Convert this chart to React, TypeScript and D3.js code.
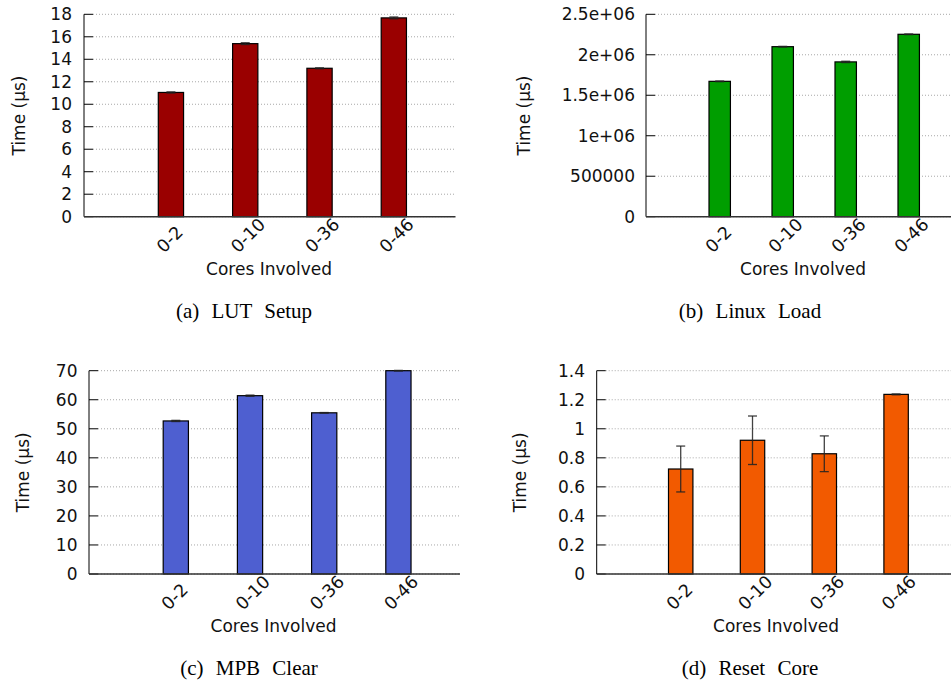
import React from "react";
import * as d3 from "d3";

const categories = ["0-2", "0-10", "0-36", "0-46"];

const lutSetup = [11.05, 15.39, 13.2, 17.68];
const lutSetupErr = [0.05, 0.08, 0.04, 0.08];
const lutTicks = [0, 2, 4, 6, 8, 10, 12, 14, 16, 18];

const linuxLoad = [1672000, 2100000, 1912000, 2253000];
const linuxLoadErr = [4000, 4000, 8000, 4000];
const linuxTicks = [0, 500000, 1000000, 1500000, 2000000, 2500000];
const linuxTickLabels = ["0", "500000", "1e+06", "1.5e+06", "2e+06", "2.5e+06"];

const mpbClear = [52.7, 61.4, 55.5, 70.0];
const mpbClearErr = [0.2, 0.2, 0.1, 0.1];
const mpbTicks = [0, 10, 20, 30, 40, 50, 60, 70];

const resetCore = [0.723, 0.921, 0.828, 1.237];
const resetCoreErr = [0.158, 0.167, 0.123, 0.003];
const resetTicks = [0, 0.2, 0.4, 0.6, 0.8, 1.0, 1.2, 1.4];

const captions = ["(a) LUT Setup", "(b) Linux Load", "(c) MPB Clear", "(d) Reset Core"];

type PanelProps = {
  left: number;
  top: number;
  bottom: number;
  unit: number;
  values: number[];
  errs: number[];
  ticks: number[];
  tickLabels?: string[];
  color: string;
  ylabelX: number;
  tickLabelX: number;
  xlabelX: number;
  xlabelY: number;
  caption: string;
  captionX: number;
  captionY: number;
};

const FONT = "'DejaVu Sans', sans-serif";

function Panel(p: PanelProps) {
  const x = d3.scaleLinear().domain([-1.17, 3.83]).range([p.left, p.left + 5 * p.unit]);
  const yMax = p.ticks[p.ticks.length - 1];
  const y = d3.scaleLinear().domain([0, yMax]).range([p.bottom, p.top]);
  const barW = 0.34 * p.unit;
  const right = x(3.83);
  const fmt = (v: number, i: number) => (p.tickLabels ? p.tickLabels[i] : d3.format("~g")(v));
  return (
    <g>
      {p.ticks.map((t, i) => (
        <g key={"t" + i}>
          <line
            x1={p.left + 9}
            x2={right}
            y1={y(t)}
            y2={y(t)}
            stroke="#a8a8a8"
            strokeWidth={1}
            strokeDasharray="1,2"
          />
          <line x1={p.left} x2={p.left + 9} y1={y(t)} y2={y(t)} stroke="#000" strokeWidth={1} />
          <text
            x={p.tickLabelX}
            y={y(t)}
            textAnchor="end"
            dominantBaseline="central"
            fontFamily={FONT}
            fontSize={17}
            fill="#111"
          >
            {fmt(t, i)}
          </text>
        </g>
      ))}
      {p.values.map((v, i) => {
        const cx = x(i);
        return (
          <g key={"b" + i}>
            <rect
              x={cx - barW / 2}
              y={y(v)}
              width={barW}
              height={p.bottom - y(v)}
              fill={p.color}
              stroke="#000"
              strokeWidth={1.2}
            />
            <line x1={cx} x2={cx} y1={y(v + p.errs[i])} y2={y(v - p.errs[i])} stroke="#222" strokeWidth={1.3} opacity={0.85} />
            <line x1={cx - 4.5} x2={cx + 4.5} y1={y(v + p.errs[i])} y2={y(v + p.errs[i])} stroke="#222" strokeWidth={1.3} opacity={0.85} />
            <line x1={cx - 4.5} x2={cx + 4.5} y1={y(v - p.errs[i])} y2={y(v - p.errs[i])} stroke="#222" strokeWidth={1.3} opacity={0.85} />
          </g>
        );
      })}
      <line x1={p.left} x2={p.left} y1={p.top} y2={p.bottom} stroke="#000" strokeWidth={1} />
      <line x1={p.left} x2={right} y1={p.bottom} y2={p.bottom} stroke="#333" strokeWidth={1.5} />
      {categories.map((c, i) => {
        const ax = x(i) - 7;
        const ay = p.bottom + 37;
        return (
          <text
            key={"c" + i}
            x={ax}
            y={ay}
            transform={`rotate(-45, ${ax}, ${ay})`}
            textAnchor="start"
            fontFamily={FONT}
            fontSize={17.5}
            fill="#111"
          >
            {c}
          </text>
        );
      })}
      <text
        x={p.ylabelX}
        y={(p.top + p.bottom) / 2}
        transform={`rotate(-90, ${p.ylabelX}, ${(p.top + p.bottom) / 2})`}
        textAnchor="middle"
        dominantBaseline="central"
        fontFamily={FONT}
        fontSize={17}
        fill="#111"
      >
        Time (µs)
      </text>
      <text x={p.xlabelX} y={p.xlabelY} textAnchor="middle" fontFamily={FONT} fontSize={17} fill="#111">
        Cores Involved
      </text>
      <text
        x={p.captionX}
        y={p.captionY}
        textAnchor="middle"
        fontFamily="'Liberation Serif', 'Times New Roman', serif"
        fontSize={21}
        wordSpacing={7}
        fill="#000"
      >
        {p.caption}
      </text>
    </g>
  );
}

export default function App() {
  return (
    <svg
      width={951}
      height={683}
      style={{ position: "absolute", left: 0, top: 0, background: "#fff" }}
    >
      <rect x={0} y={0} width={951} height={683} fill="#fff" />
      <Panel
        left={84}
        top={14.3}
        bottom={216.7}
        unit={74.3}
        values={lutSetup}
        errs={lutSetupErr}
        ticks={lutTicks}
        color="#9a0000"
        ylabelX={18.5}
        tickLabelX={72}
        xlabelX={269}
        xlabelY={275}
        caption={captions[0]}
        captionX={244}
        captionY={317.5}
      />
      <Panel
        left={646}
        top={14.3}
        bottom={216.7}
        unit={63}
        values={linuxLoad}
        errs={linuxLoadErr}
        ticks={linuxTicks}
        tickLabels={linuxTickLabels}
        color="#009e00"
        ylabelX={524}
        tickLabelX={635}
        xlabelX={803}
        xlabelY={275}
        caption={captions[1]}
        captionX={750}
        captionY={317.5}
      />
      <Panel
        left={89}
        top={370.7}
        bottom={574}
        unit={74.2}
        values={mpbClear}
        errs={mpbClearErr}
        ticks={mpbTicks}
        color="#4e5fd0"
        ylabelX={23.3}
        tickLabelX={77.5}
        xlabelX={273.5}
        xlabelY={632}
        caption={captions[2]}
        captionX={249}
        captionY={675}
      />
      <Panel
        left={596.7}
        top={370.7}
        bottom={574}
        unit={71.8}
        values={resetCore}
        errs={resetCoreErr}
        ticks={resetTicks}
        color="#f25a00"
        ylabelX={520}
        tickLabelX={585}
        xlabelX={776}
        xlabelY={632}
        caption={captions[3]}
        captionX={750}
        captionY={675}
      />
    </svg>
  );
}
